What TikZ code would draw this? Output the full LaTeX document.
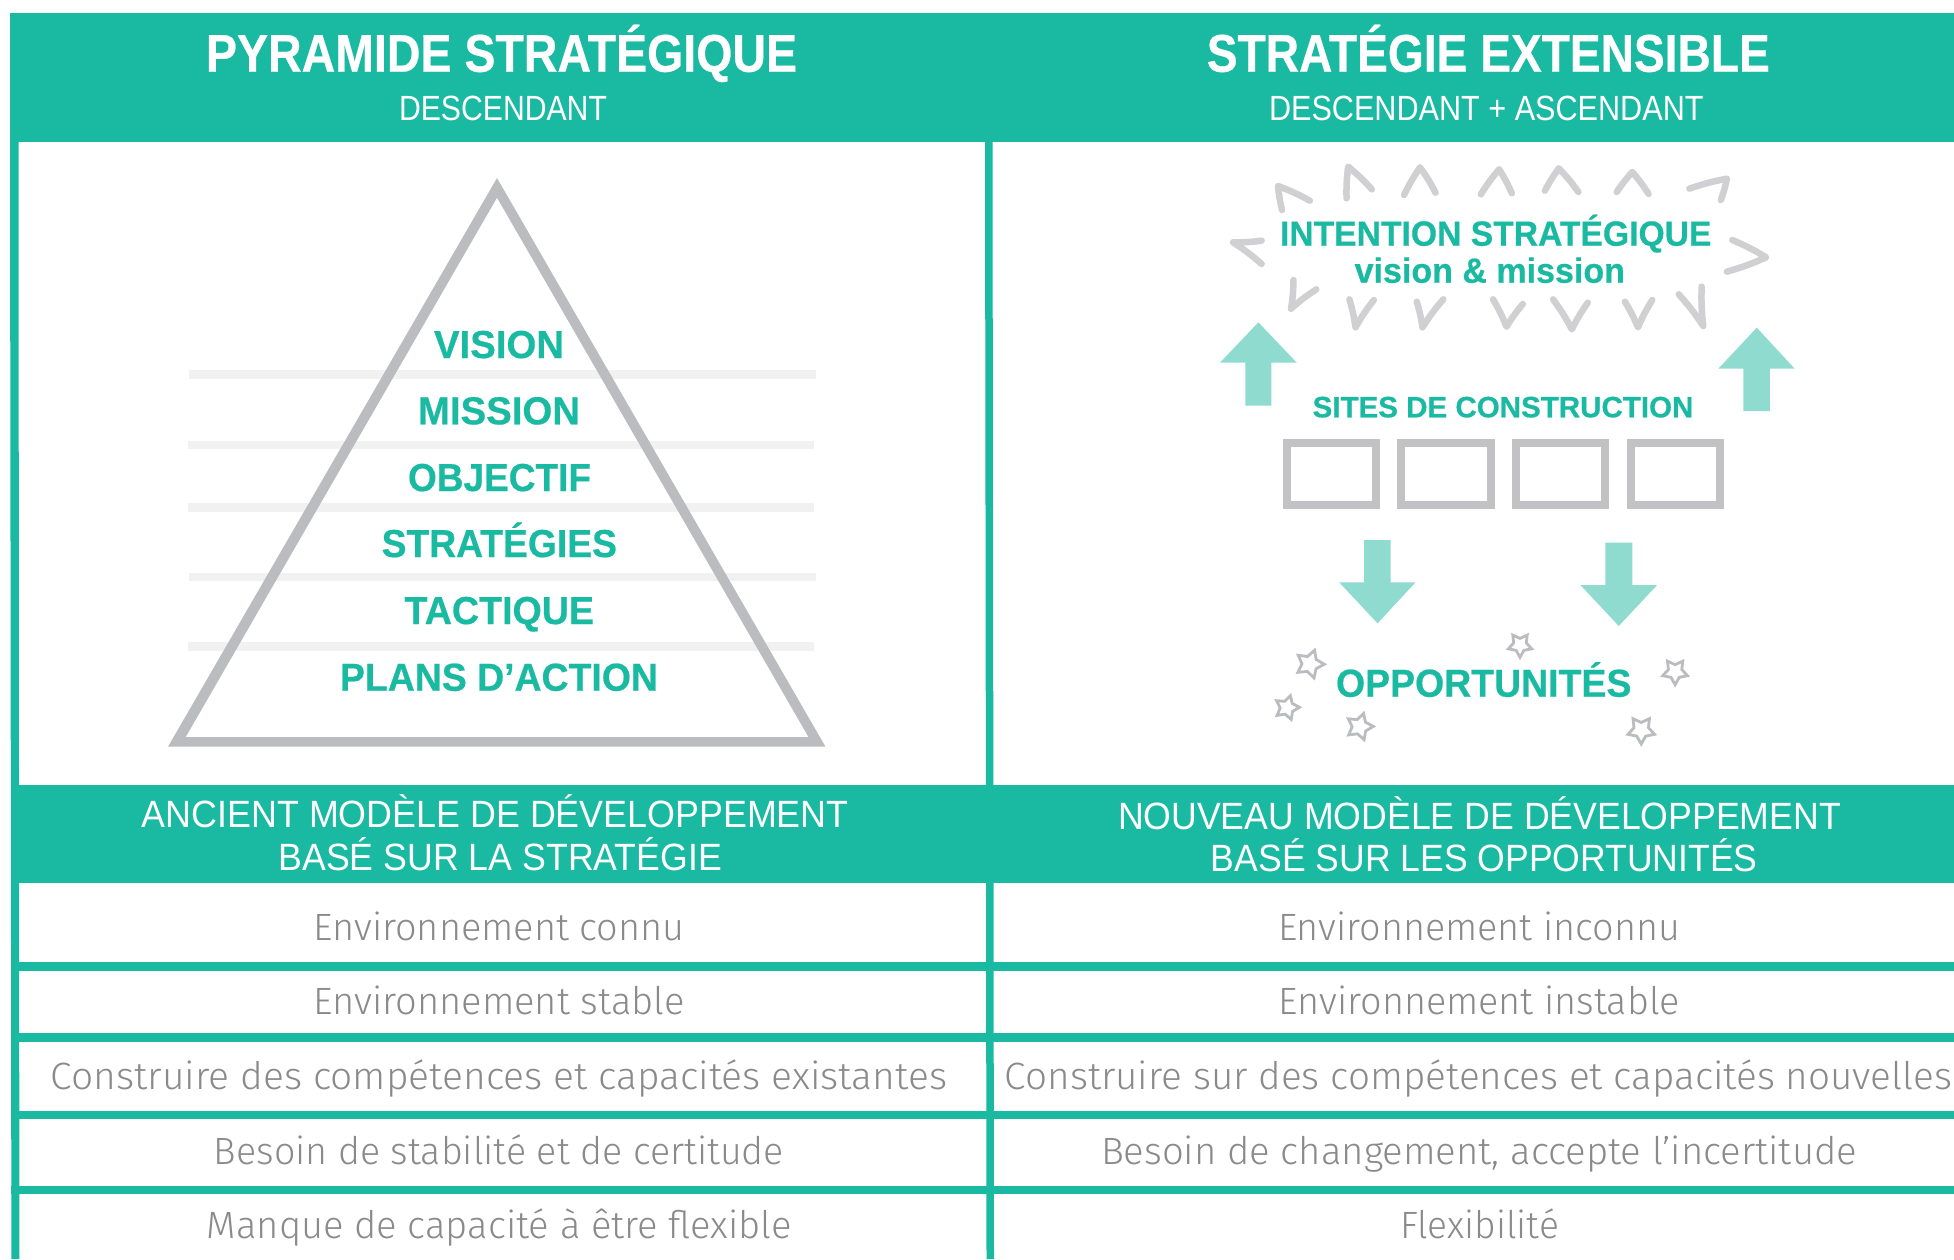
\documentclass[tikz,border=0pt]{standalone}
\usepackage{fontspec}
\usepackage{graphicx}
\usetikzlibrary{shapes.geometric}
\setmainfont{Liberation Sans}
\newfontfamily\lightf{Fira Sans Light}
\newfontfamily\heavyf[FakeBold=0.5]{Liberation Sans Bold}
\definecolor{teal1}{HTML}{1AB9A2}
\definecolor{arrowc}{HTML}{90DBCF}
\definecolor{chevc}{HTML}{D0D0D2}
\definecolor{pyrc}{HTML}{BBBCC0}
\definecolor{boxc}{HTML}{C2C2C4}
\definecolor{linec}{HTML}{F1F1F1}
\definecolor{rowc}{HTML}{8A8A8C}
\newcommand{\fitw}[2]{\resizebox{#1pt}{\height}{#2}}
\tikzset{
  txt/.style={anchor=base,inner sep=0pt,outer sep=0pt},
  title/.style={txt,text=white,font=\fontsize{53}{53}\selectfont\heavyf},
  subt/.style={txt,text=white,font=\fontsize{35}{35}\selectfont},
  head/.style={txt,text=white,font=\fontsize{38}{38}\selectfont},
  lvl/.style={txt,text=teal1,font=\fontsize{39}{39}\selectfont\heavyf},
  rowt/.style={txt,text=rowc,font=\fontsize{38}{38}\selectfont\lightf},
  band/.style={fill=teal1,draw=none},
  fline/.style={fill=linec,draw=none},
  bigarrow/.style={fill=arrowc,draw=none},
  chev/.style={draw=chevc,line width=6.5pt,line cap=round,line join=round},
  stardeco/.style={star,star points=5,star point ratio=1.85,draw=pyrc,line width=2.8pt,fill=white,inner sep=0pt,minimum size=29pt},
}
\newcommand{\chevron}[3]{\draw[chev] (#1) to[bend left=4] (#2) to[bend left=4] (#3);}
\begin{document}
\begin{tikzpicture}[x=1pt,y=-1pt]
\useasboundingbox (0,0) rectangle (1954,1259);
\fill[white] (0,0) rectangle (1954,1259);
% bands
\fill[band] (10,13) rectangle (1954,142);
\fill[band] (10,142) -- (18.5,142) -- (19.4,1259) -- (11.4,1259) -- cycle;
\fill[band] (985,142) -- (992.5,142) -- (994,1259) -- (986.5,1259) -- cycle;
\fill[band] (10.7,785) rectangle (1954,882.7);
\fill[band] (11,962) rectangle (1954,970.7);
\fill[band] (11,1033) rectangle (1954,1041.7);
\fill[band] (11,1111) rectangle (1954,1119);
\fill[band] (11,1186) rectangle (1954,1194);
% top titles
\node[title] (t1) at (501.5,71.7) {\fitw{591}{PYRAMIDE STRATÉGIQUE}};
\node[subt] (s1) at (503,120) {\fitw{208}{DESCENDANT}};
\node[title] (t2) at (1488.3,71.7) {\fitw{563}{STRATÉGIE EXTENSIBLE}};
\node[subt] (s2) at (1486.3,120) {\fitw{434.6}{DESCENDANT + ASCENDANT}};
% pyramid lines
\fill[fline] (189,370) rectangle (816,379);
\fill[fline] (187.5,440.7) rectangle (814,449.3);
\fill[fline] (187.5,503) rectangle (814,512);
\fill[fline] (189,572.7) rectangle (816,581.3);
\fill[fline] (187.5,642) rectangle (814,650.7);
% pyramid
\fill[pyrc,even odd rule] (497,178) -- (168,746.7) -- (825.5,746.7) -- cycle
  (497,197.7) -- (185.7,737) -- (808.5,737) -- cycle;
\node[lvl] (l1) at (499,358) {\fitw{130}{VISION}};
\node[lvl] (l2) at (499,424.3) {\fitw{162}{MISSION}};
\node[lvl] (l3) at (499.5,491) {\fitw{183}{OBJECTIF}};
\node[lvl] (l4) at (499.3,557) {\fitw{235.3}{STRATÉGIES}};
\node[lvl] (l5) at (499.3,624) {\fitw{189.5}{TACTIQUE}};
\node[lvl] (l6) at (499,690.7) {\fitw{318}{PLANS D’ACTION}};
% right diagram, upper part (mapped coordinates)
\begin{scope}[shift={(1180,130)},x=0.40816pt,y=-0.33333pt]
  \chevron{250,240}{240,168}{318,212}
  \chevron{408,205}{412,110}{470,178}
  \chevron{549,195}{588,112}{626,188}
  \chevron{737,193}{782,118}{813,190}
  \chevron{894,182}{928,115}{976,186}
  \chevron{1070,186}{1108,126}{1148,192}
  \chevron{1248,176}{1340,146}{1325,210}
  \chevron{200,332}{130,337}{200,402}
  \chevron{1353,330}{1436,382}{1340,425}
  \chevron{278,450}{272,536}{334,478}
  \chevron{415,508}{430,592}{475,510}
  \chevron{580,515}{594,592}{645,508}
  \chevron{767,508}{800,590}{840,522}
  \chevron{914,508}{960,598}{999,518}
  \chevron{1090,515}{1122,592}{1157,510}
  \chevron{1222,493}{1282,588}{1278,470}
  \fill[bigarrow] (192,577) -- (286,698) -- (224,698) -- (224,827) -- (160,827) -- (160,698) -- (98,698) -- cycle;
  \fill[bigarrow] (1413,593) -- (1506,716) -- (1445,716) -- (1445,843) -- (1380,843) -- (1380,716) -- (1319,716) -- cycle;
\end{scope}
\node[lvl,font=\fontsize{35}{35}\selectfont\heavyf] (i1) at (1495.7,245.7) {\fitw{431.4}{INTENTION STRATÉGIQUE}};
\node[lvl,font=\fontsize{35}{35}\selectfont\heavyf] (i2) at (1489.8,282.7) {\fitw{270.3}{vision \& mission}};
\node[lvl,font=\fontsize{29.5}{30}\selectfont\heavyf] (si) at (1503,417.3) {\fitw{380.8}{SITES DE CONSTRUCTION}};
\draw[boxc,line width=7.5pt] (1286.8,442.8) rectangle (1376.2,505.2);
\draw[boxc,line width=7.5pt] (1401.2,442.8) rectangle (1491,505.2);
\draw[boxc,line width=7.5pt] (1515.8,442.8) rectangle (1605.2,505.2);
\draw[boxc,line width=7.5pt] (1630.8,442.8) rectangle (1720.2,505.2);
% right diagram, lower part (mapped coordinates)
\begin{scope}[shift={(1180,520)},x=0.40816pt,y=-0.33333pt]
  \fill[bigarrow] (484,310) -- (577,187) -- (516,187) -- (516,60) -- (451,60) -- (451,187) -- (390,187) -- cycle;
  \fill[bigarrow] (1075,318) -- (1169,195) -- (1108,195) -- (1108,68) -- (1042,68) -- (1042,195) -- (981,195) -- cycle;
  \node[stardeco,rotate=-19] (st1) at (318,432) {};
  \node[stardeco,rotate=-16,minimum size=25pt] (st2) at (262,563) {};
  \node[stardeco,rotate=-17,minimum size=27.5pt] (st3) at (440,620) {};
  \node[stardeco,rotate=180,minimum size=24.5pt] (st4) at (833,375) {};
  \node[stardeco,rotate=180,minimum size=26pt] (st5) at (1213,455) {};
  \node[stardeco,rotate=180,minimum size=28pt] (st6) at (1130,630) {};
\end{scope}
\node[lvl] (op) at (1483.7,696.7) {\fitw{295.4}{OPPORTUNITÉS}};
% section heads
\node[head] (h1a) at (495.3,827.7) {\fitw{706.6}{ANCIENT MODÈLE DE DÉVELOPPEMENT}};
\node[head] (h1b) at (500.3,870) {\fitw{443.4}{BASÉ SUR LA STRATÉGIE}};
\node[head] (h2a) at (1479.5,829) {\fitw{723}{NOUVEAU MODÈLE DE DÉVELOPPEMENT}};
\node[head] (h2b) at (1484.3,871) {\fitw{546.6}{BASÉ SUR LES OPPORTUNITÉS}};
% rows
\node[rowt] (a1) at (499,940) {\fitw{371}{Environnement connu}};
\node[rowt] (a2) at (499,1014) {\fitw{371}{Environnement stable}};
\node[rowt] (a3) at (499,1089) {\fitw{896}{Construire des compétences et capacités existantes}};
\node[rowt] (a4) at (499,1164) {\fitw{570}{Besoin de stabilité et de certitude}};
\node[rowt] (a5) at (499.5,1238.7) {\fitw{585}{Manque de capacité à être flexible}};
\node[rowt] (b1) at (1479,940) {\fitw{402}{Environnement inconnu}};
\node[rowt] (b2) at (1479.3,1014) {\fitw{401}{Environnement instable}};
\node[rowt] (b3) at (1478.5,1089) {\fitw{947}{Construire sur des compétences et capacités nouvelles}};
\node[rowt] (b4) at (1479,1164) {\fitw{756}{Besoin de changement, accepte l’incertitude}};
\node[rowt] (b5) at (1479.5,1238.7) {\fitw{159}{Flexibilité}};
\end{tikzpicture}
\end{document}
